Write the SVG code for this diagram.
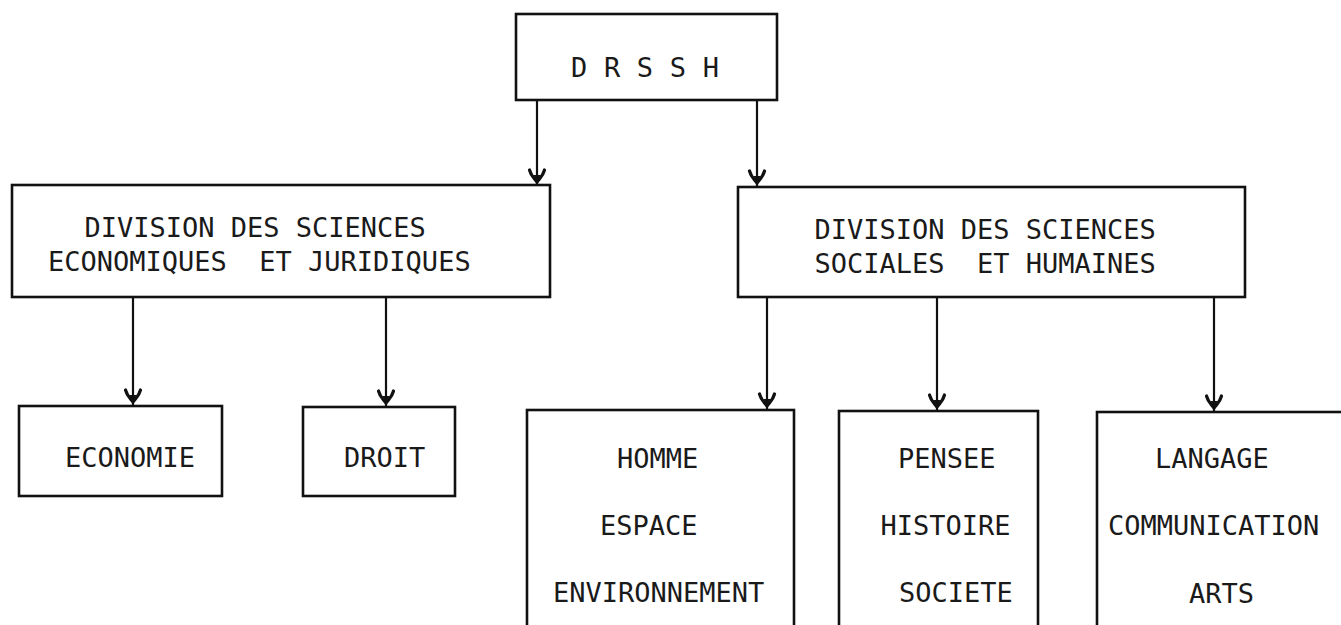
<svg xmlns="http://www.w3.org/2000/svg" width="1341" height="625" viewBox="0 0 1341 625">
<style>
.box{fill:none;stroke:#111;stroke-width:2.6}
.con{fill:none;stroke:#111;stroke-width:2.2}
text{font-family:"DejaVu Sans Mono","Liberation Mono",monospace;font-size:27px;fill:#1a1a1a;white-space:pre}
</style>
<defs>
<marker id="ah" markerUnits="userSpaceOnUse" orient="0" refX="0" refY="0" markerWidth="40" markerHeight="40" viewBox="-20 -30 40 40" overflow="visible">
<path d="M-7.5,-16 C-6,-10 -3,-8 0,-4 C3,-8 6,-10 7.5,-16" fill="none" stroke="#111" stroke-width="3.2" stroke-linecap="round"/>
<path d="M-3.5,-11 L0,-4 L3.5,-11 Z" fill="#111"/>
</marker>
</defs>
<rect width="1341" height="625" fill="#fff"/>
<g id="connectors">
<line class="con" x1="537" y1="100" x2="537" y2="186" marker-end="url(#ah)"/>
<line class="con" x1="757" y1="100" x2="757" y2="187" marker-end="url(#ah)"/>
<line class="con" x1="133" y1="297" x2="133" y2="406" marker-end="url(#ah)"/>
<line class="con" x1="386" y1="297" x2="386" y2="407" marker-end="url(#ah)"/>
<line class="con" x1="767" y1="297" x2="767" y2="410" marker-end="url(#ah)"/>
<line class="con" x1="937" y1="297" x2="937" y2="411" marker-end="url(#ah)"/>
<line class="con" x1="1214" y1="297" x2="1214" y2="412" marker-end="url(#ah)"/>
</g>
<g id="drssh">
<rect class="box" x="516" y="14" width="261" height="86"/>
<text x="571" y="77" letter-spacing="0.2">D R S S H</text>
</g>
<g id="div-eco-jur">
<rect class="box" x="12" y="185" width="538" height="112"/>
<text x="84.5" y="237">DIVISION DES SCIENCES</text>
<text x="48" y="271">ECONOMIQUES  ET JURIDIQUES</text>
</g>
<g id="div-soc-hum">
<rect class="box" x="738" y="187" width="507" height="110"/>
<text x="814.5" y="239">DIVISION DES SCIENCES</text>
<text x="814.5" y="273">SOCIALES  ET HUMAINES</text>
</g>
<g id="economie">
<rect class="box" x="19" y="406" width="203" height="90"/>
<text x="65" y="467">ECONOMIE</text>
</g>
<g id="droit">
<rect class="box" x="303" y="407" width="152" height="89"/>
<text x="344" y="467">DROIT</text>
</g>
<g id="homme">
<rect class="box" x="527" y="410" width="267" height="240"/>
<text x="617" y="468">HOMME</text>
<text x="600" y="535">ESPACE</text>
<text x="553" y="602">ENVIRONNEMENT</text>
</g>
<g id="pensee">
<rect class="box" x="839" y="411" width="199" height="240"/>
<text x="898" y="468">PENSEE</text>
<text x="880.5" y="535">HISTOIRE</text>
<text x="899" y="602">SOCIETE</text>
</g>
<g id="langage">
<rect class="box" x="1097" y="412" width="260" height="240"/>
<text x="1155" y="468">LANGAGE</text>
<text x="1108" y="535">COMMUNICATION</text>
<text x="1189" y="603">ARTS</text>
</g>
</svg>
